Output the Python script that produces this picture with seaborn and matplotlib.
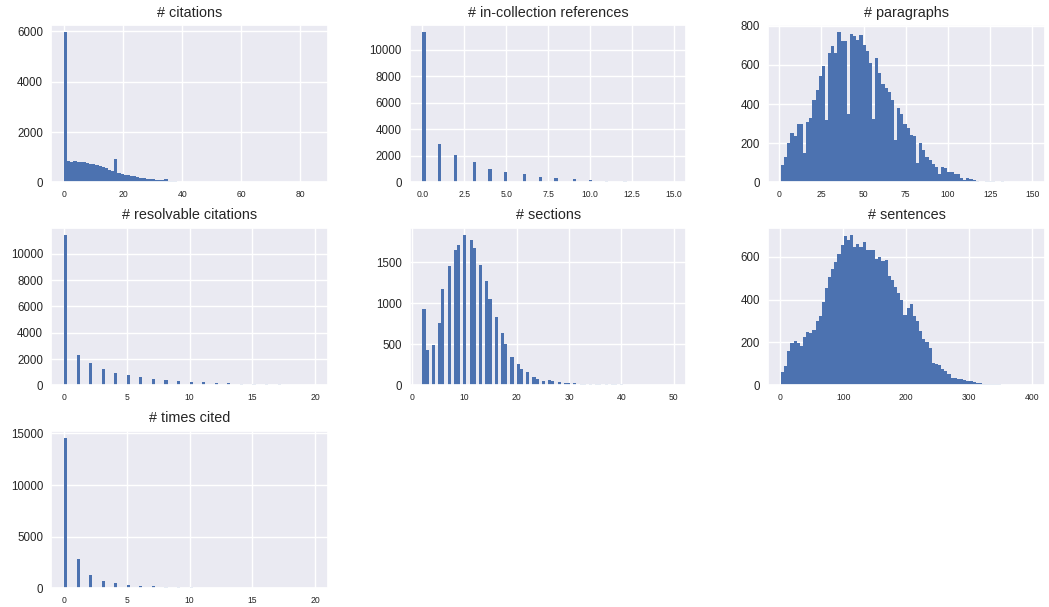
import matplotlib
matplotlib.use("Agg")
import matplotlib.pyplot as plt
from matplotlib.ticker import MaxNLocator
import numpy as np
import seaborn as sns

N_BINS = 80
BAR_COLOR = "#4C72B0"

# integer-valued columns: counts for each integer value
citations_values = list(range(0, 86))
citations_counts = [
    5150, 800, 850, 830, 840, 820, 830, 810, 780, 730,
    720, 680, 660, 610, 560, 500, 460, 460, 460, 360,
    340, 310, 290, 270, 240, 210, 190, 170, 150, 130,
    120, 100, 90, 80, 60, 60, 55, 45, 40, 35,
    30, 25, 22, 20, 18, 15, 12, 10, 25, 6,
    5, 5, 4, 4, 3, 3, 3, 2, 2, 2,
    2, 2, 1, 1, 1, 1, 1, 1, 1, 1,
    1, 1, 0, 1, 0, 1, 0, 0, 1, 0,
    0, 1, 0, 0, 0, 1,
]

in_collection_values = list(range(0, 16))
in_collection_counts = [
    11300, 2920, 2040, 1530, 1030, 800, 660, 440,
    340, 240, 160, 130, 90, 60, 50, 20,
]

paragraphs_values = list(range(1, 151))
paragraphs_counts = [
    40, 50, 60, 70, 95, 105, 125, 125, 115, 120,
    148, 152, 150, 150, 150, 152, 158, 162, 168, 205,
    215, 230, 240, 268, 277, 292, 303, 320, 328, 332,
    345, 350, 330, 330, 380, 385, 360, 360, 360, 360,
    350, 375, 380, 372, 373, 362, 363, 375, 375, 352,
    348, 338, 332, 308, 302, 325, 318, 317, 283, 277,
    252, 248, 242, 238, 232, 228, 212, 208, 215, 192,
    188, 177, 173, 152, 148, 142, 138, 122, 118, 118,
    117, 100, 102, 98, 84, 81, 66, 64, 58, 57,
    48, 47, 40, 40, 45, 40, 40, 38, 37, 28,
    27, 28, 27, 23, 22, 23, 22, 13, 12, 15,
    13, 12, 9, 9, 8, 7, 5, 5, 3, 2,
    3, 2, 10, 4, 4, 4, 3, 3, 2, 2,
    3, 2, 4, 3, 2, 3, 2, 1, 2, 1,
    1, 2, 1, 1, 1, 1, 1, 0, 1, 1,
]

resolvable_values = list(range(0, 21))
resolvable_counts = [
    11400, 2270, 1720, 1220, 960, 770, 620, 490, 370, 300,
    230, 220, 170, 140, 120, 90, 75, 65, 50, 40, 30,
]

sections_values = list(range(2, 51))
sections_counts = [
    935, 430, 492, 765, 1170, 1455, 1655, 1705, 1830, 1778,
    1680, 1465, 1270, 1048, 835, 642, 500, 340, 265, 205,
    160, 100, 80, 50, 60, 50, 35, 30, 28, 25,
    22, 20, 18, 17, 15, 14, 13, 12, 11, 10,
    10, 9, 8, 8, 7, 6, 8, 6, 7,
]

times_cited_values = list(range(0, 21))
times_cited_counts = [
    14550, 2790, 1270, 715, 490, 300, 260, 170, 130, 100,
    80, 60, 50, 40, 35, 30, 25, 20, 18, 15, 12,
]

# sentences: heights of the 80 histogram bars spanning 1..400
sentences_range = (1, 400)
sentences_bar_heights = [
    61, 88, 160, 197, 205, 197, 184, 224, 251, 243,
    256, 299, 325, 387, 456, 504, 544, 573, 613, 655,
    695, 680, 700, 645, 660, 645, 667, 630, 630, 630,
    590, 600, 580, 585, 510, 490, 460, 430, 400, 330,
    360, 380, 325, 300, 255, 215, 200, 175, 105, 100,
    95, 75, 65, 55, 35, 35, 30, 28, 25, 22,
    18, 15, 12, 10, 8, 7, 6, 5, 5, 4,
    3, 3, 3, 2, 2, 2, 1, 2, 1, 1,
]

sent_edges = np.linspace(sentences_range[0], sentences_range[1], N_BINS + 1)
sentences_values = (sent_edges[:-1] + sent_edges[1:]) / 2

panels = [
    ("# citations", citations_values, citations_counts, None),
    ("# in-collection references", in_collection_values, in_collection_counts, None),
    ("# paragraphs", paragraphs_values, paragraphs_counts, None),
    ("# resolvable citations", resolvable_values, resolvable_counts, None),
    ("# sections", sections_values, sections_counts, None),
    ("# sentences", sentences_values, sentences_bar_heights, sentences_range),
    ("# times cited", times_cited_values, times_cited_counts, None),
]

sns.set_theme(style="darkgrid")
plt.rcParams["font.family"] = ["Liberation Sans", "DejaVu Sans"]

fig, axes = plt.subplots(3, 3, figsize=(10.49, 6.07), dpi=100)
fig.subplots_adjust(left=0.049, right=0.996, bottom=0.031, top=0.959,
                    wspace=0.297, hspace=0.287)

for ax, (title, values, counts, brange) in zip(axes.flat, panels):
    if brange is None:
        brange = (min(values), max(values))
    sns.histplot(x=values, weights=counts, bins=N_BINS, binrange=brange,
                 ax=ax, color=BAR_COLOR, alpha=1, linewidth=0)
    ax.set_title(title, fontsize=10.4)
    ax.set_xlabel("")
    ax.set_ylabel("")
    ax.xaxis.set_major_locator(MaxNLocator(nbins=7, steps=[1, 2, 2.5, 5, 10]))
    ax.tick_params(axis="x", labelsize=6.2, length=0, pad=5.5)
    ax.tick_params(axis="y", labelsize=8.3, length=0, pad=6)

for ax in axes.flat[len(panels):]:
    ax.remove()

fig.savefig("out.png", dpi=100)
